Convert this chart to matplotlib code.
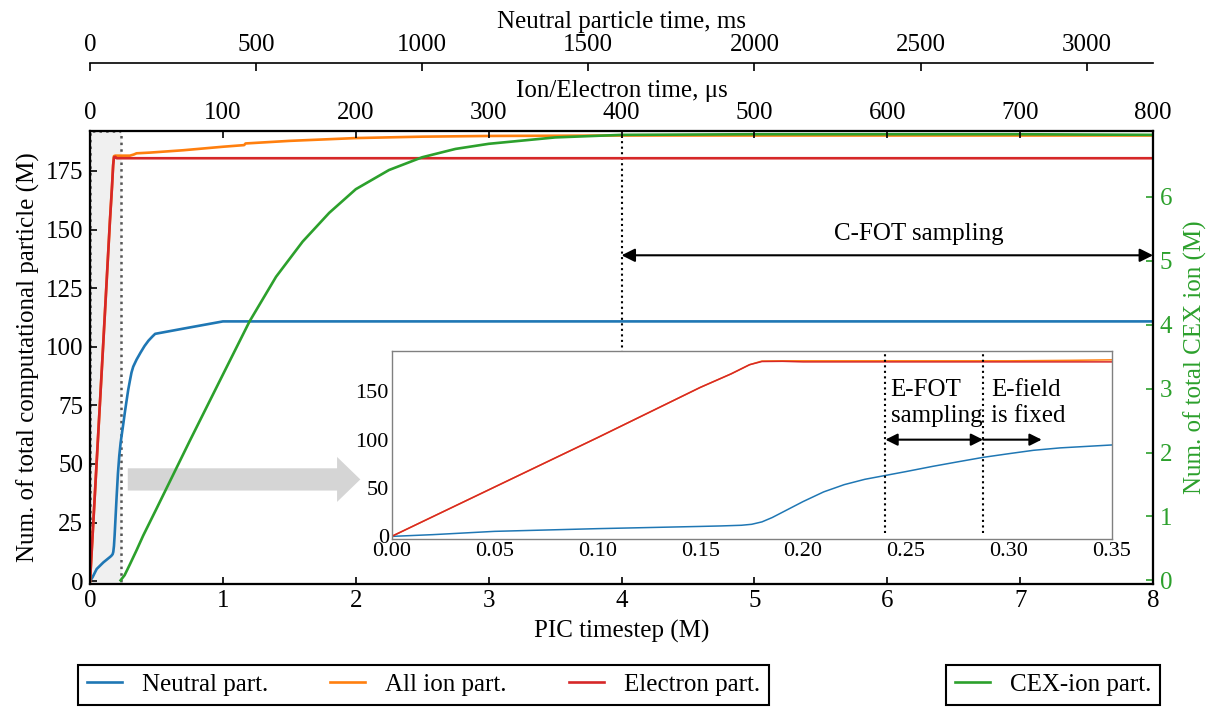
import matplotlib
matplotlib.use("Agg")
import matplotlib.pyplot as plt
from matplotlib.patches import FancyArrow

plt.rcParams.update({
    "font.family": "serif",
    "font.serif": ["Liberation Serif", "DejaVu Serif"],
    "font.size": 18,
    "axes.linewidth": 1.5,
})

BLUE, ORANGE, RED, GREEN = "#1f77b4", "#ff7f0e", "#d62728", "#2ca02c"

# ---- data (PIC timestep in M, particle counts in M) ----
neutral_t = [0.0, 0.02, 0.05, 0.10, 0.15, 0.16, 0.17, 0.175, 0.18, 0.185, 0.19,
             0.20, 0.21, 0.22, 0.23, 0.24, 0.25, 0.263, 0.275, 0.2875, 0.30,
             0.312, 0.325, 0.35, 0.38, 0.41, 0.44, 0.47, 0.49, 0.70, 1.0, 8.0]
neutral_n = [0.0, 1.8, 5.2, 8.0, 10.3, 10.8, 11.5, 12.5, 15.0, 19.5, 25.0,
             36.0, 46.0, 53.5, 59.0, 63.0, 67.0, 72.4, 77.0, 81.7, 85.5,
             89.0, 91.5, 94.5, 97.5, 100.3, 102.6, 104.4, 105.5, 107.7, 110.8, 110.8]

ion_t = [0.0, 0.05, 0.10, 0.15, 0.165, 0.174, 0.18, 0.19, 0.30, 0.33, 0.35,
         0.45, 0.50, 0.70, 1.0, 1.16, 1.17, 1.5, 2.0, 2.33, 2.5, 3.0, 4.0, 8.0]
ion_n = [0.0, 51.0, 102.0, 154.0, 168.0, 177.5, 181.3, 181.5, 181.5, 182.0, 182.5,
         182.8, 183.0, 183.8, 185.3, 186.0, 186.7, 187.8, 189.0, 189.4, 189.6, 189.9,
         190.1, 190.1]

elec_t = [0.0, 0.05, 0.10, 0.15, 0.165, 0.174, 0.18, 0.19, 0.20, 8.0]
elec_n = [0.0, 51.0, 102.0, 154.0, 168.0, 177.5, 180.8, 181.0, 180.4, 180.4]

cex_t = [0.23, 0.26, 0.30, 0.35, 0.40, 0.50, 0.75, 1.0, 1.2, 1.4, 1.6, 1.8, 2.0,
         2.25, 2.5, 2.75, 3.0, 3.5, 4.0, 5.0, 6.0, 7.0, 8.0]
cex_n = [0.0, 0.08, 0.25, 0.47, 0.70, 1.12, 2.18, 3.22, 4.05, 4.75, 5.30, 5.75, 6.12,
         6.42, 6.62, 6.75, 6.83, 6.93, 6.97, 6.98, 6.98, 6.98, 6.97]

fig = plt.figure(figsize=(12.07, 7.11), dpi=100)
ax = fig.add_axes([0.0746, 0.1793, 0.8807, 0.6364])

# warm-up region and guide arrow
ax.axvspan(0, 0.23, facecolor="#f0f0f0", edgecolor="#555555", ls=":", lw=1.8, zorder=0.5)
ax.add_patch(FancyArrow(0.284, 43.4, 1.75, 0, width=9.5, head_width=19.2,
                        head_length=0.175, length_includes_head=True,
                        color="#d3d3d3", lw=0, zorder=3, alpha=0.95))

l_neu, = ax.plot(neutral_t, neutral_n, color=BLUE, lw=1.9, label="Neutral part.", zorder=2)
l_ion, = ax.plot(ion_t, ion_n, color=ORANGE, lw=1.9, label="All ion part.", zorder=2)
l_ele, = ax.plot(elec_t, elec_n, color=RED, lw=1.9, label="Electron part.", zorder=2)

ax.set_xlim(0, 8)
ax.set_ylim(-1, 192)
ax.set_xticks(range(9))
ax.set_yticks([0, 25, 50, 75, 100, 125, 150, 175])
ax.set_xlabel("PIC timestep (M)", labelpad=5)
ax.set_ylabel("Num. of total computational particle (M)", labelpad=4)
ax.tick_params(direction="in", length=5, width=1.2, pad=5)

# C-FOT sampling window
ax.axvline(4.0, ymin=0.51, color="k", ls=":", lw=1.5, zorder=1)
ax.annotate("", xy=(8, 139), xytext=(4, 139),
            arrowprops=dict(arrowstyle="<|-|>", color="k", lw=1.5,
                            mutation_scale=20, shrinkA=0, shrinkB=0))
ax.text(6.24, 148, "C-FOT sampling", ha="center", va="center")

# right axis: CEX ions
ax_r = ax.twinx()
l_cex, = ax_r.plot(cex_t, cex_n, color=GREEN, lw=1.9, label="CEX-ion part.")
ax_r.set_ylim(-0.05, 7.03)
ax_r.set_yticks(range(7))
ax_r.set_ylabel("Num. of total CEX ion (M)", color=GREEN, labelpad=8)
ax_r.tick_params(axis="y", direction="in", length=5, width=1.2, colors=GREEN, pad=5)
ax_r.spines["right"].set_color("k")

# top axis: ion/electron time
ax_t = ax.twiny()
ax_t.set_xlim(0, 800)
ax_t.set_xticks(range(0, 801, 100))
ax_t.set_xlabel("Ion/Electron time, \u03bcs", labelpad=4)
ax_t.tick_params(axis="x", direction="in", length=5, width=1.2, pad=5)

# outer top axis: neutral time
ax_n = ax.twiny()
ax_n.set_xlim(0, 3200)
ax_n.set_xticks(range(0, 3001, 500))
ax_n.spines["top"].set_position(("outward", 49))
ax_n.spines["top"].set_linewidth(1.2)
for s in ("left", "right", "bottom"):
    ax_n.spines[s].set_visible(False)
ax_n.set_xlabel("Neutral particle time, ms", labelpad=4)
ax_n.tick_params(axis="x", direction="in", length=6, width=1.2, pad=5)

# inset: zoom on early timesteps
axi = fig.add_axes([0.3245, 0.2415, 0.5965, 0.2653])
axi.plot(neutral_t, neutral_n, color=BLUE, lw=1.1)
axi.plot(ion_t, ion_n, color=ORANGE, lw=1.1)
axi.plot(elec_t, elec_n, color=RED, lw=1.1)
axi.set_xlim(0, 0.35)
axi.set_ylim(-3, 192)
axi.set_xticks([0.0, 0.05, 0.10, 0.15, 0.20, 0.25, 0.30, 0.35])
axi.set_xticklabels(["0.00", "0.05", "0.10", "0.15", "0.20", "0.25", "0.30", "0.35"])
axi.set_yticks([0, 50, 100, 150])
axi.tick_params(length=0, labelsize=16, pad=2)
for s in axi.spines.values():
    s.set_color("#808080")
    s.set_linewidth(1.0)

axi.vlines([0.24, 0.2875], 4, 192, colors="k", linestyles=":", lw=1.5)
axi.annotate("", xy=(0.2875, 100), xytext=(0.24, 100),
             arrowprops=dict(arrowstyle="<|-|>", color="k", lw=1.5,
                             mutation_scale=18, shrinkA=0, shrinkB=0))
axi.annotate("", xy=(0.316, 100), xytext=(0.2875, 100),
             arrowprops=dict(arrowstyle="-|>", color="k", lw=1.5,
                             mutation_scale=18, shrinkA=0, shrinkB=0))
axi.text(0.2425, 163, "E-FOT\nsampling", ha="left", va="top", linespacing=1.25)
axi.text(0.2915, 163, "E-field\nis fixed", ha="left", va="top", linespacing=1.25)

# legends
leg_kw = dict(loc="center", frameon=True, fancybox=False, edgecolor="black",
              framealpha=1, fontsize=18, handlelength=1.4, handletextpad=0.8,
              borderpad=0.35, borderaxespad=0)
leg1 = fig.legend(handles=[l_neu, l_ion, l_ele], bbox_to_anchor=(0.351, 0.0366),
                  ncol=3, columnspacing=2.5, **leg_kw)
leg2 = fig.legend(handles=[l_cex], bbox_to_anchor=(0.8725, 0.0366), **leg_kw)
for lg in (leg1, leg2):
    lg.get_frame().set_linewidth(1.5)

fig.savefig("out.png", dpi=100)
